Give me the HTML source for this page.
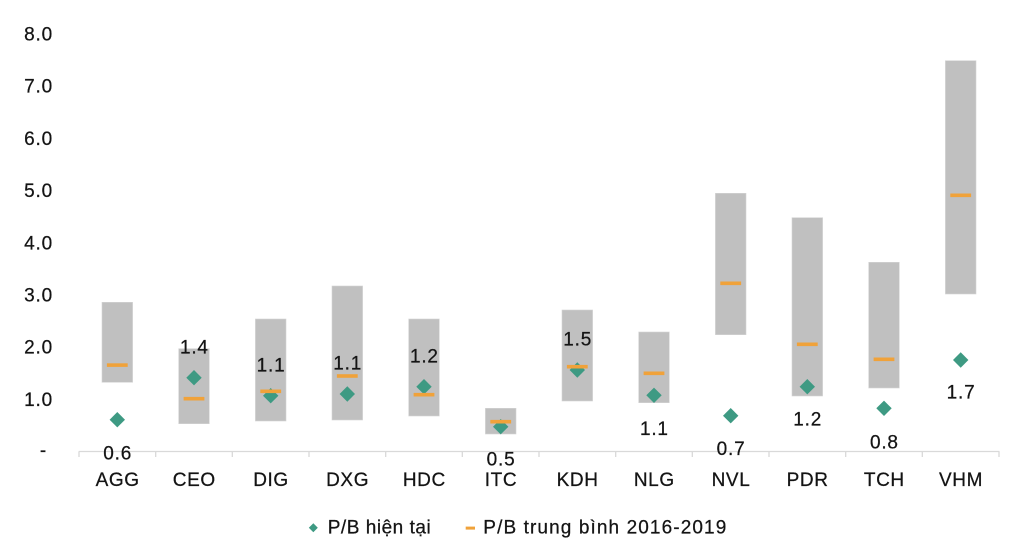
<!DOCTYPE html>
<html>
<head>
<meta charset="utf-8">
<style>
  html,body{margin:0;padding:0;background:#ffffff;}
  svg{display:block;}
  text{font-family:"Liberation Sans","DejaVu Sans",sans-serif;fill:#141414;stroke:#141414;stroke-width:0.25;}
</style>
</head>
<body>
<svg width="1024" height="538" viewBox="0 0 1024 538" xmlns="http://www.w3.org/2000/svg">
  <rect x="0" y="0" width="1024" height="538" fill="#ffffff"/>

  <!-- Y axis labels -->
  <g font-size="19" text-anchor="end" letter-spacing="0.8">
    <text x="53" y="40.5">8.0</text>
    <text x="53" y="92.7">7.0</text>
    <text x="53" y="144.9">6.0</text>
    <text x="53" y="197.1">5.0</text>
    <text x="53" y="249.3">4.0</text>
    <text x="53" y="301.5">3.0</text>
    <text x="53" y="353.7">2.0</text>
    <text x="53" y="405.9">1.0</text>
    <text x="47" y="456.5">-</text>
  </g>

  <!-- Bars (range) -->
  <g fill="#c0c0c0" stroke="#d4d4d4" stroke-width="0.6">
    <rect x="102.0" y="302.3" width="30.6" height="80.0"/>
    <rect x="178.7" y="348.7" width="30.6" height="75.0"/>
    <rect x="255.4" y="319.0" width="30.6" height="102.0"/>
    <rect x="332.0" y="286.0" width="30.6" height="134.0"/>
    <rect x="408.7" y="319.0" width="30.6" height="97.0"/>
    <rect x="485.4" y="408.3" width="30.6" height="25.7"/>
    <rect x="562.0" y="310.0" width="30.6" height="91.0"/>
    <rect x="638.7" y="332.0" width="30.6" height="70.7"/>
    <rect x="715.4" y="193.3" width="30.6" height="141.4"/>
    <rect x="792.0" y="217.7" width="30.6" height="178.3"/>
    <rect x="868.7" y="262.3" width="30.6" height="125.7"/>
    <rect x="945.4" y="60.7" width="30.6" height="233.3"/>
  </g>

  <!-- X axis line and ticks -->
  <g stroke="#d9d9d9" stroke-width="1.3" fill="none">
    <line x1="78.7" y1="451.5" x2="999.5" y2="451.5"/>
    <line x1="79.0" y1="451.5" x2="79.0" y2="457"/>
    <line x1="155.7" y1="451.5" x2="155.7" y2="457"/>
    <line x1="232.3" y1="451.5" x2="232.3" y2="457"/>
    <line x1="309.0" y1="451.5" x2="309.0" y2="457"/>
    <line x1="385.7" y1="451.5" x2="385.7" y2="457"/>
    <line x1="462.3" y1="451.5" x2="462.3" y2="457"/>
    <line x1="539.0" y1="451.5" x2="539.0" y2="457"/>
    <line x1="615.7" y1="451.5" x2="615.7" y2="457"/>
    <line x1="692.3" y1="451.5" x2="692.3" y2="457"/>
    <line x1="769.0" y1="451.5" x2="769.0" y2="457"/>
    <line x1="845.7" y1="451.5" x2="845.7" y2="457"/>
    <line x1="922.3" y1="451.5" x2="922.3" y2="457"/>
    <line x1="999.0" y1="451.5" x2="999.0" y2="457"/>
  </g>

  <!-- Diamonds (P/B hiện tại) -->
  <g fill="#3e9a83">
    <polygon points="117.3,412 125,419.7 117.3,427.4 109.6,419.7"/>
    <polygon points="194.0,370 201.7,377.7 194.0,385.4 186.3,377.7"/>
    <polygon points="270.7,388 278.4,395.7 270.7,403.4 263.0,395.7"/>
    <polygon points="347.3,386.3 355,394 347.3,401.7 339.6,394"/>
    <polygon points="424.0,379 431.7,386.7 424.0,394.4 416.3,386.7"/>
    <polygon points="500.7,419 508.4,426.7 500.7,434.4 493.0,426.7"/>
    <polygon points="577.3,362.3 585,370 577.3,377.7 569.6,370"/>
    <polygon points="654.0,387.6 661.7,395.3 654.0,403 646.3,395.3"/>
    <polygon points="730.7,408 738.4,415.7 730.7,423.4 723.0,415.7"/>
    <polygon points="807.3,379 815,386.7 807.3,394.4 799.6,386.7"/>
    <polygon points="884.0,400.6 891.7,408.3 884.0,416 876.3,408.3"/>
    <polygon points="960.7,352.3 968.4,360 960.7,367.7 953.0,360"/>
  </g>

  <!-- Orange dashes (P/B trung bình) -->
  <g fill="#f0a23a">
    <rect x="106.9" y="363.3" width="20.8" height="3.6"/>
    <rect x="183.6" y="396.9" width="20.8" height="3.6"/>
    <rect x="260.3" y="389.5" width="20.8" height="3.6"/>
    <rect x="336.9" y="374.2" width="20.8" height="3.6"/>
    <rect x="413.6" y="392.9" width="20.8" height="3.6"/>
    <rect x="490.3" y="419.9" width="20.8" height="3.6"/>
    <rect x="566.9" y="364.9" width="20.8" height="3.6"/>
    <rect x="643.6" y="371.5" width="20.8" height="3.6"/>
    <rect x="720.3" y="281.5" width="20.8" height="3.6"/>
    <rect x="796.9" y="342.5" width="20.8" height="3.6"/>
    <rect x="873.6" y="357.5" width="20.8" height="3.6"/>
    <rect x="950.3" y="193.5" width="20.8" height="3.6"/>
  </g>

  <!-- Data labels -->
  <g font-size="19" text-anchor="middle" letter-spacing="0.8">
    <text x="117.7" y="459.3">0.6</text>
    <text x="194.4" y="353.6">1.4</text>
    <text x="271.1" y="371.6">1.1</text>
    <text x="347.7" y="369.3">1.1</text>
    <text x="424.4" y="362.6">1.2</text>
    <text x="501.1" y="465.3">0.5</text>
    <text x="577.7" y="345.6">1.5</text>
    <text x="654.4" y="434.9">1.1</text>
    <text x="731.1" y="454.9">0.7</text>
    <text x="807.7" y="425.6">1.2</text>
    <text x="884.4" y="448.6">0.8</text>
    <text x="961.1" y="398.6">1.7</text>
  </g>

  <!-- X category labels -->
  <g font-size="19" text-anchor="middle" letter-spacing="0.6">
    <text x="117.6" y="486">AGG</text>
    <text x="194.3" y="486">CEO</text>
    <text x="271.0" y="486">DIG</text>
    <text x="347.6" y="486">DXG</text>
    <text x="424.3" y="486">HDC</text>
    <text x="501.0" y="486">ITC</text>
    <text x="577.6" y="486">KDH</text>
    <text x="654.3" y="486">NLG</text>
    <text x="731.0" y="486">NVL</text>
    <text x="807.6" y="486">PDR</text>
    <text x="884.3" y="486">TCH</text>
    <text x="961.0" y="486">VHM</text>
  </g>

  <!-- Legend -->
  <polygon points="313.3,523.3 317.8,527.8 313.3,532.3 308.8,527.8" fill="#3e9a83"/>
  <text x="327.7" y="533.5" font-size="19" textLength="103" lengthAdjust="spacing">P/B hiện tại</text>
  <rect x="465.7" y="526.6" width="9.3" height="3" fill="#f0a23a"/>
  <text x="483.3" y="533.5" font-size="19" textLength="243" lengthAdjust="spacing">P/B trung bình 2016-2019</text>
</svg>
</body>
</html>
